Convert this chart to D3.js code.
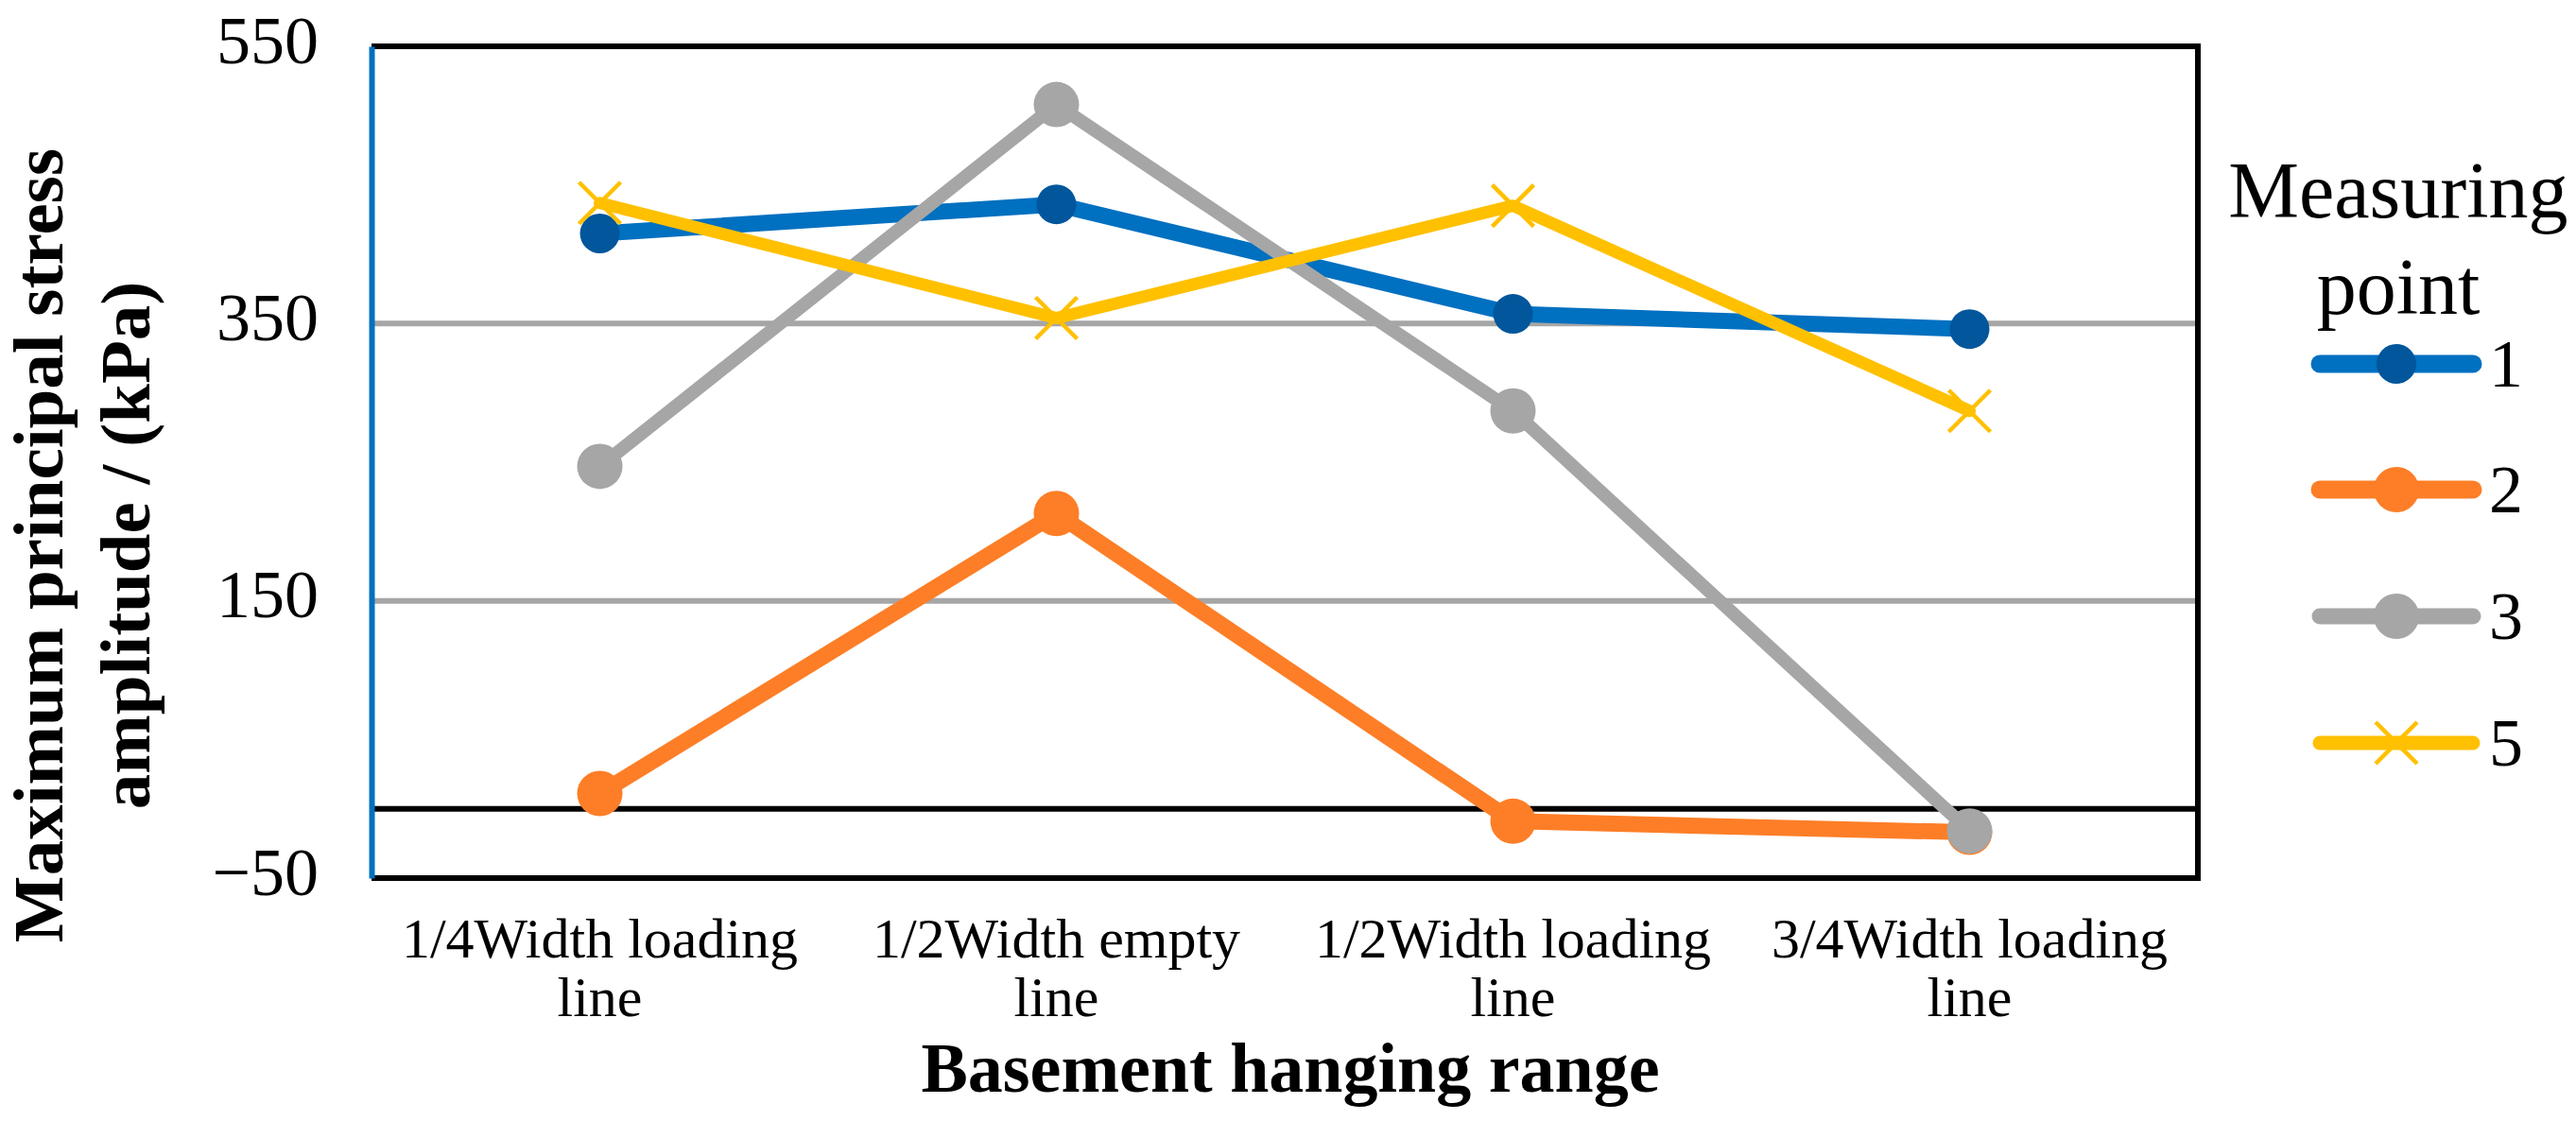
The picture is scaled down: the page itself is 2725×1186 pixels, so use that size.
<!DOCTYPE html>
<html>
<head>
<meta charset="utf-8">
<script src="https://cdn.jsdelivr.net/npm/d3@7"></script>
<style>
  html, body { margin: 0; padding: 0; background: #fff; }
  svg { display: block; }
  text { font-family: "Liberation Serif", "Times New Roman", serif; fill: #000; }
</style>
</head>
<body>
<svg id="chart" width="2725" height="1186"></svg>
<script>
// ---- data ----
const categories = ["1/4Width loading line", "1/2Width empty line", "1/2Width loading line", "3/4Width loading line"];
const categoryLines = [["1/4Width loading", "line"], ["1/2Width empty", "line"], ["1/2Width loading", "line"], ["3/4Width loading", "line"]];
const seriesNames = ["1", "2", "3", "5"];
const series1 = [415, 436, 357, 346];
const series2 = [11, 213, -9, -17];
const series3 = [247, 508, 287, -16];
const series5 = [437, 354, 435, 287];
const yTicks = [-50, 150, 350, 550];
const gridValues = [150, 350];
const yTitleLines = ["Maximum principal stress", "amplitude / (kPa)"];
const xTitle = "Basement hanging range";
const legendTitleLines = ["Measuring", "point"];

// ---- layout ----
const svg = d3.select("#chart");
const L = 393, R = 2325, T = 49, B = 929;

const x = d3.scaleBand().domain(categories).range([L, R]).padding(0);
const y = d3.scaleLinear().domain([-50, 550]).range([B, T]);

const styles = [
  { name: seriesNames[0], data: series1, color: "#0070C0", marker: "circle", mfill: "#02569B", r: 21, w: 17 },
  { name: seriesNames[1], data: series2, color: "#FD7E27", marker: "circle", mfill: "#FD7E27", r: 24, w: 17 },
  { name: seriesNames[2], data: series3, color: "#A6A6A6", marker: "circle", mfill: "#A6A6A6", r: 24, w: 14 },
  { name: seriesNames[3], data: series5, color: "#FFC000", marker: "x", mfill: "#FFC000", r: 22, w: 13 }
];

// gridlines
svg.append("g").selectAll("line").data(gridValues).join("line")
  .attr("x1", L).attr("x2", R)
  .attr("y1", d => y(d)).attr("y2", d => y(d))
  .attr("stroke", "#A6A6A6").attr("stroke-width", 6);

// zero line
svg.append("line")
  .attr("x1", L).attr("x2", R)
  .attr("y1", y(0)).attr("y2", y(0))
  .attr("stroke", "#000").attr("stroke-width", 6);

// plot border (top, right, bottom)
svg.append("path")
  .attr("d", `M${L},${T}H${R}V${B}H${L}`)
  .attr("fill", "none").attr("stroke", "#000").attr("stroke-width", 6)
  .attr("stroke-linejoin", "miter");

// y axis
const yAxis = d3.axisLeft(y).tickValues(yTicks).tickSize(0).tickPadding(56).tickFormat(d3.format("d"));
const gy = svg.append("g").attr("transform", `translate(${L},0)`).call(yAxis);
gy.select(".domain").attr("stroke", "#0070C0").attr("stroke-width", 6);
gy.selectAll("text")
  .attr("font-size", 72)
  .attr("dy", "0.24em")
  .style("font-family", '"Liberation Serif", "Times New Roman", serif')
  .attr("fill", "#000");

// x axis labels
const gx = svg.append("g");
categories.forEach((c, i) => {
  const cx = x(c) + x.bandwidth() / 2;
  const t = gx.append("text").attr("x", cx).attr("y", 1013)
    .attr("text-anchor", "middle").attr("font-size", 60);
  categoryLines[i].forEach((ln, j) => {
    t.append("tspan").attr("x", cx).attr("y", 1013 + j * 62).text(ln);
  });
});

// x title
svg.append("text").attr("x", (L + R) / 2 + 6).attr("y", 1155)
  .attr("text-anchor", "middle").attr("font-size", 74).attr("font-weight", "bold")
  .text(xTitle);

// y title
const yt = svg.append("text").attr("transform", "translate(0,577) rotate(-90)")
  .attr("text-anchor", "middle").attr("font-size", 75).attr("font-weight", "bold");
yTitleLines.forEach((ln, j) => {
  yt.append("tspan").attr("x", 0).attr("y", 66 + j * 92).text(ln);
});

// series
const line = d3.line().x((d, i) => x(categories[i]) + x.bandwidth() / 2).y(d => y(d));

function drawMarker(g, s, cx, cy) {
  if (s.marker === "circle") {
    g.append("circle").attr("cx", cx).attr("cy", cy).attr("r", s.r).attr("fill", s.mfill);
  } else {
    const h = s.r;
    g.append("path")
      .attr("d", `M${cx - h},${cy - h}L${cx + h},${cy + h}M${cx - h},${cy + h}L${cx + h},${cy - h}`)
      .attr("stroke", s.mfill).attr("stroke-width", 4.5).attr("fill", "none");
  }
}

styles.forEach(s => {
  const g = svg.append("g");
  g.append("path").datum(s.data).attr("d", line)
    .attr("fill", "none").attr("stroke", s.color).attr("stroke-width", s.w)
    .attr("stroke-linejoin", "round").attr("stroke-linecap", "round");
  s.data.forEach((v, i) => {
    drawMarker(g, s, x(categories[i]) + x.bandwidth() / 2, y(v));
  });
});

// legend
const lg = svg.append("g");
const lt = lg.append("text").attr("text-anchor", "middle").attr("font-size", 84);
legendTitleLines.forEach((ln, j) => {
  lt.append("tspan").attr("x", 2537).attr("y", 230 + j * 102).text(ln);
});
const legendY = [385, 518, 652, 786];
const legendW = [19, 19, 17, 15];
styles.forEach((s, i) => {
  const cy = legendY[i];
  lg.append("line").attr("x1", 2454).attr("x2", 2616).attr("y1", cy).attr("y2", cy)
    .attr("stroke", s.color).attr("stroke-width", legendW[i]).attr("stroke-linecap", "round");
  drawMarker(lg, s, 2535, cy);
  lg.append("text").attr("x", 2633).attr("y", cy + 24).attr("font-size", 72).text(s.name);
});
</script>
</body>
</html>
